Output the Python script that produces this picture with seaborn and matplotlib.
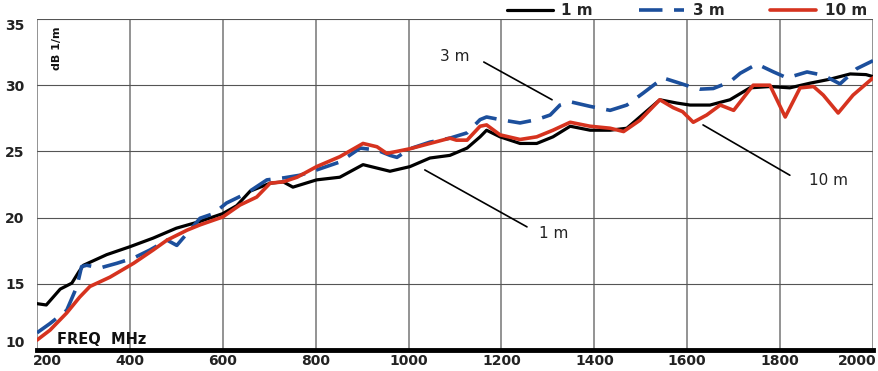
import numpy as np
import pandas as pd
import matplotlib
matplotlib.use("Agg")
import matplotlib.pyplot as plt
import matplotlib.transforms as mtransforms
import seaborn as sns

# ---- data ----
freq_1m = [200, 220, 250, 275, 290, 300, 350, 400, 450, 500, 550, 600, 630, 659, 702, 730,
           751, 802, 852, 902, 960, 1003, 1046, 1089, 1126, 1154, 1168, 1197, 1240, 1276,
           1311, 1348, 1391, 1434, 1470, 1498, 1541, 1578, 1606, 1649, 1692, 1735, 1778,
           1821, 1864, 1907, 1951, 1985, 2000]
db_1m = [13.5, 13.4, 14.6, 15.05, 15.9, 16.4, 17.2, 17.8, 18.45, 19.2, 19.7, 20.3, 20.9, 22.0,
         22.6, 22.7, 22.3, 22.85, 23.05, 24.0, 23.5, 23.85, 24.5, 24.7, 25.25, 26.1, 26.6,
         26.1, 25.6, 25.6, 26.1, 26.9, 26.6, 26.6, 26.75, 27.6, 28.9, 28.65, 28.5, 28.5,
         28.9, 29.8, 29.9, 29.8, 30.15, 30.45, 30.85, 30.8, 30.65]

freq_3m = [200, 228, 264, 286, 296, 307, 336, 372, 408, 443, 480, 501, 523, 551, 580, 608,
           652, 695, 731, 766, 802, 852, 896, 932, 960, 975, 1003, 1046, 1089, 1126, 1154,
           1168, 1197, 1240, 1276, 1305, 1326, 1348, 1391, 1434, 1470, 1505, 1548, 1584,
           1606, 1627, 1656, 1692, 1714, 1750, 1786, 1815, 1858, 1893, 1929, 1965, 2000]
db_3m = [11.3, 12.0, 13.0, 14.8, 16.3, 16.4, 16.2, 16.55, 16.95, 17.55, 18.3, 17.9, 18.8,
         19.95, 20.3, 21.1, 21.85, 22.85, 23.0, 23.2, 23.6, 24.2, 25.25, 25.1, 24.7, 24.55,
         25.2, 25.7, 26.0, 26.4, 27.4, 27.6, 27.4, 27.15, 27.4, 27.75, 28.5, 28.75, 28.4,
         28.1, 28.5, 29.4, 30.55, 30.15, 29.9, 29.7, 29.75, 30.25, 30.9, 31.6, 31.0, 30.55,
         31.0, 30.75, 30.1, 31.25, 31.85]

freq_10m = [200, 228, 264, 292, 314, 357, 408, 450, 480, 523, 551, 600, 637, 673, 702, 730,
            760, 802, 852, 902, 932, 953, 975, 1003, 1046, 1089, 1103, 1126, 1154, 1168,
            1197, 1240, 1276, 1311, 1348, 1391, 1434, 1463, 1498, 1541, 1570, 1590, 1613,
            1642, 1671, 1700, 1742, 1778, 1811, 1843, 1872, 1893, 1925, 1957, 2000]
db_10m = [10.75, 11.5, 12.8, 14.0, 14.8, 15.5, 16.55, 17.55, 18.3, 19.05, 19.45, 20.05,
          20.95, 21.55, 22.6, 22.7, 23.05, 23.85, 24.6, 25.6, 25.35, 24.85, 25.0, 25.2, 25.6,
          26.0, 25.85, 25.85, 26.9, 27.0, 26.25, 25.9, 26.1, 26.6, 27.2, 26.9, 26.75, 26.5,
          27.35, 28.9, 28.3, 28.0, 27.2, 27.75, 28.5, 28.1, 30.0, 30.0, 27.6, 29.8, 29.9,
          29.25, 27.9, 29.25, 30.55]

series_labels = ["1 m", "3 m", "10 m"]
x_ticks = [200, 400, 600, 800, 1000, 1200, 1400, 1600, 1800, 2000]
y_ticks = [10, 15, 20, 25, 30, 35]

# ---- style ----
sns.set_theme(style="white")
plt.rcParams["font.family"] = ["DejaVu Sans"]

fig = plt.figure(figsize=(8.79, 3.71), dpi=100)
ax = fig.add_axes([37 / 879, 21 / 371, 836 / 879, 331 / 371])

df1 = pd.DataFrame({"f": freq_1m, "db": db_1m})
df3 = pd.DataFrame({"f": freq_3m, "db": db_3m})
df10 = pd.DataFrame({"f": freq_10m, "db": db_10m})

sns.lineplot(data=df1, x="f", y="db", ax=ax, color="#000000", lw=2.3,
             label=series_labels[0], zorder=3)
sns.lineplot(data=df3, x="f", y="db", ax=ax, color="#1c4f9c", lw=2.6,
             label=series_labels[1], zorder=4)
ax.lines[-1].set_dashes((6.5, 3.2))
sns.lineplot(data=df10, x="f", y="db", ax=ax, color="#d6331f", lw=2.6,
             label=series_labels[2], zorder=5)

ax.set_xlim(200, 2000)
ax.set_ylim(10, 35)
ax.set_xticks(x_ticks)
ax.set_yticks(y_ticks)
ax.set_xticklabels([str(t) for t in x_ticks], fontweight="bold", fontsize=10)
ax.set_yticklabels([str(t) for t in y_ticks], fontweight="bold", fontsize=10)
ax.tick_params(axis="both", length=0, pad=3, colors="#222222")
ax.tick_params(axis="y", pad=9)
ax.set_xlabel("")
ax.set_ylabel("")

# end tick labels are pulled inward as in the reference
xl = ax.get_xticklabels()
xl[0].set_transform(xl[0].get_transform() +
                    mtransforms.ScaledTranslation(10 / 100, 0, fig.dpi_scale_trans))
xl[-1].set_transform(xl[-1].get_transform() +
                     mtransforms.ScaledTranslation(-16 / 100, 0, fig.dpi_scale_trans))
yl = ax.get_yticklabels()
yl[0].set_verticalalignment("bottom")
yl[-1].set_verticalalignment("top")

# grid
for t in x_ticks:
    ax.axvline(t, color="#8a8a8a", lw=1.3, zorder=1)
for t in y_ticks:
    ax.axhline(t, color="#555555", lw=0.8, zorder=1)

for s in ["top", "right", "left"]:
    ax.spines[s].set_visible(False)
ax.spines["bottom"].set_color("#000000")
ax.spines["bottom"].set_linewidth(3.5)
ax.spines["bottom"].set_zorder(6)

# legend above plot (top right)
leg = ax.legend(loc="lower right", bbox_to_anchor=(1.0, 0.985), ncol=3, frameon=False,
                handlelength=3.0, columnspacing=3.0, handletextpad=0.55,
                prop={"weight": "bold", "size": 11}, borderaxespad=0)

# labels inside the plot
ax.text(243, 32.8, "dB 1/m", rotation=90, fontsize=8, fontweight="bold",
        ha="center", va="center", color="#111111")
ax.text(244, 10.8, "FREQ  MHz", fontsize=10.5, fontweight="bold",
        ha="left", va="center", color="#111111")

# callouts
ax.text(1100, 32.2, "3 m", fontsize=11, ha="center", va="center", color="#222222")
ax.plot([1162, 1309], [31.75, 28.9], color="#000000", lw=1.2, zorder=6)
ax.text(1313, 18.8, "1 m", fontsize=11, ha="center", va="center", color="#222222")
ax.plot([1035, 1255], [23.6, 19.3], color="#000000", lw=1.2, zorder=6)
ax.text(1905, 22.8, "10 m", fontsize=11, ha="center", va="center", color="#222222")
ax.plot([1634, 1821], [27.0, 23.2], color="#000000", lw=1.2, zorder=6)

fig.savefig("out.png", dpi=100)
